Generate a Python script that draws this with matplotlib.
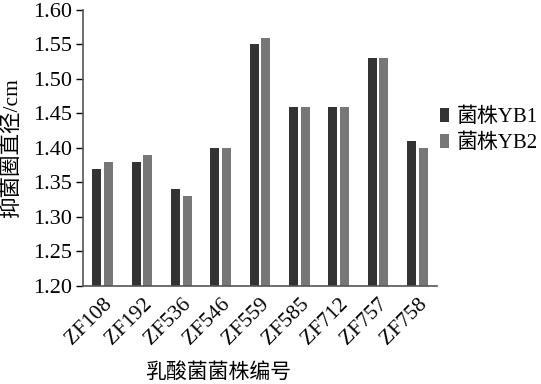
import matplotlib
matplotlib.use("Agg")
import matplotlib.pyplot as plt
import numpy as np

plt.rcParams['font.family'] = ['Liberation Serif', 'Noto Sans CJK SC']

categories = ["ZF108", "ZF192", "ZF536", "ZF546", "ZF559", "ZF585", "ZF712", "ZF757", "ZF758"]
yb1 = [1.37, 1.38, 1.34, 1.40, 1.55, 1.46, 1.46, 1.53, 1.41]
yb2 = [1.38, 1.39, 1.33, 1.40, 1.56, 1.46, 1.46, 1.53, 1.40]
series_names = ["菌株YB1", "菌株YB2"]
yticks = [1.20, 1.25, 1.30, 1.35, 1.40, 1.45, 1.50, 1.55, 1.60]

fam = ['Liberation Serif', 'Noto Sans CJK SC']

fig = plt.figure(figsize=(5.41, 3.84), dpi=100)
ax = fig.add_axes([83/541, 1 - 286/384, (437-83)/541, (286-10)/384])

x = np.arange(len(categories))
w = 0.23
off = 0.145
ax.bar(x - off, yb1, width=w, bottom=0, color="#333333", label=series_names[0])
ax.bar(x + off, yb2, width=w, bottom=0, color="#777777", label=series_names[1])

ax.set_ylim(1.20, 1.60)
ax.set_xlim(-0.5, len(categories) - 0.5)
ax.set_yticks(yticks)
ax.set_yticklabels([f"{v:.2f}" for v in yticks], fontsize=16)
ax.set_xticks(x)
ax.set_xticklabels(categories, rotation=45, ha="right", rotation_mode="anchor", fontsize=15.5)
ax.tick_params(axis='x', length=0, pad=6)
ax.tick_params(axis='y', length=5, width=1, direction='out', pad=3)

for s in ["top", "right"]:
    ax.spines[s].set_visible(False)
for s in ["left", "bottom"]:
    ax.spines[s].set_color("#555555")
    ax.spines[s].set_linewidth(1.2)

ax.set_ylabel("抑菌圈直径/cm", fontsize=15.5, family=fam)
ax.yaxis.set_label_coords((12-83)/354, 0.5)
ax.yaxis.label.set_va("center")
ax.set_xlabel("乳酸菌菌株编号", fontsize=15, family=fam)
ax.xaxis.set_label_coords((218-83)/354, -(373-286)/276)
ax.xaxis.label.set_va("center")

leg = ax.legend(loc="center left", bbox_to_anchor=((440-83)/354, 0.563), frameon=False,
                fontsize=15, handlelength=0.43, handleheight=0.67, handletextpad=0.4,
                labelspacing=0.3, borderaxespad=0, borderpad=0)
for t in leg.get_texts():
    t.set_family(fam)

fig.savefig("out.png", dpi=100)
